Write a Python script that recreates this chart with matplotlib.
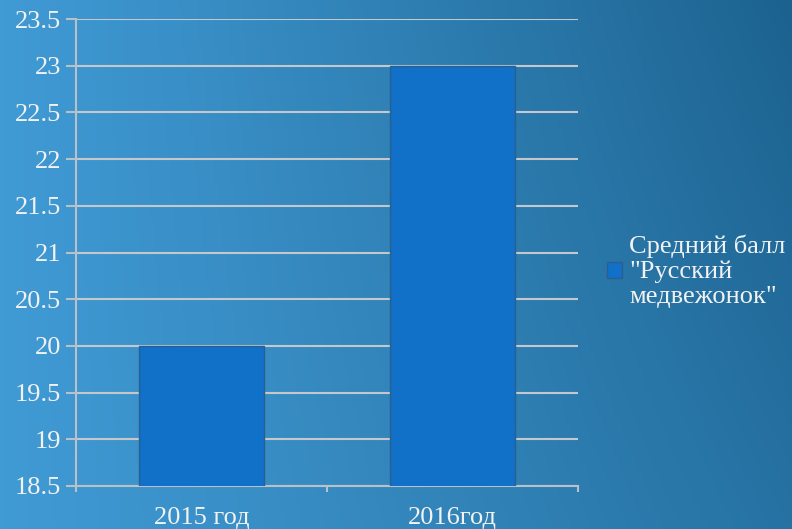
import numpy as np
import matplotlib
matplotlib.use("Agg")
import matplotlib.pyplot as plt
from matplotlib.patches import Patch

categories = ["2015 год", "2016год"]
values = [20, 23]
series_name = "Средний балл\n\"Русский\nмедвежонок\""
yticks = [18.5, 19, 19.5, 20, 20.5, 21, 21.5, 22, 22.5, 23, 23.5]
ytick_labels = ["18.5", "19", "19.5", "20", "20.5", "21", "21.5", "22", "22.5", "23", "23.5"]

plt.rcParams['font.family'] = ['Liberation Serif', 'DejaVu Serif']

W, H = 792, 529
fig = plt.figure(figsize=(W / 100, H / 100), dpi=100)

# background gradient
bg = fig.add_axes([0, 0, 1, 1], zorder=-10)
xx, yy = np.meshgrid(np.linspace(0, 1, 200), np.linspace(0, 1, 140))
left = np.array([0x40, 0x9a, 0xd4]) / 255
right_top = np.array([0x1c, 0x62, 0x8f]) / 255
right_bot = np.array([0x26, 0x72, 0xa3]) / 255
t = np.clip(xx, 0, 1) ** 1.1
right = right_top[None, None, :] * (1 - yy[..., None]) + right_bot[None, None, :] * yy[..., None]
img = left[None, None, :] * (1 - t[..., None]) + right * t[..., None]
bg.imshow(img, aspect='auto', extent=[0, 1, 0, 1], origin='upper')
bg.set_axis_off()

ax = fig.add_axes([76 / W, 1 - 486 / H, (578 - 76) / W, (486 - 19) / H])
ax.patch.set_alpha(0)
x = np.arange(len(categories))
ax.bar(x, values, width=0.5, bottom=0, color='#1170c8', edgecolor='#2a5f8f',
       linewidth=1, zorder=3, label=series_name)
ax.set_xlim(-0.5, len(categories) - 0.5)
ax.set_ylim(18.5, 23.5)
ax.set_yticks(yticks)
ax.set_yticklabels(ytick_labels)
ax.yaxis.grid(True, color='#c4c8cc', linewidth=1.5, zorder=1)
ax.set_axisbelow(True)

grid_col = '#b8c0c8'
for s in ['top', 'right']:
    ax.spines[s].set_visible(False)
for s in ['left', 'bottom']:
    ax.spines[s].set_color(grid_col)
    ax.spines[s].set_linewidth(1.5)

ax.set_xticks(x)
ax.set_xticklabels(categories)
ax.set_xticks([-0.5, 0.5, 1.5], minor=True)
ax.tick_params(axis='x', which='major', length=0, pad=15, labelsize=19, labelcolor='#f2f2f2')
ax.tick_params(axis='x', which='minor', length=4, width=1.5, color=grid_col)
ax.tick_params(axis='y', length=7.5, width=1.5, color=grid_col, pad=3, labelsize=19, labelcolor='#f2f2f2')

leg = fig.legend(handles=[Patch(facecolor='#1170c8', edgecolor='#2a5f8f', label=series_name)],
                 loc='center left', bbox_to_anchor=(607 / W, 1 - 271 / H), frameon=False,
                 borderpad=0, borderaxespad=0,
                 fontsize=19, handlelength=0.55, handleheight=0.55, handletextpad=0.3,
                 labelcolor='#f2f2f2')
for txt in leg.get_texts():
    txt.set_linespacing(1.17)

fig.savefig("out.png", dpi=100)
